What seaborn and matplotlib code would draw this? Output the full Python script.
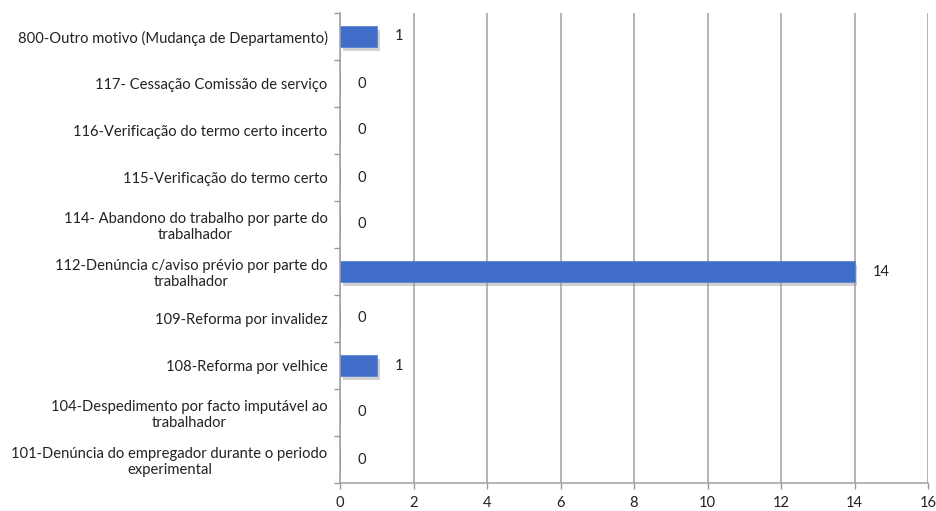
import matplotlib
matplotlib.use("Agg")
import matplotlib.pyplot as plt
import matplotlib.patheffects as pe
import seaborn as sns
import pandas as pd

categories = [
    "800-Outro motivo (Mudança de Departamento)",
    "117- Cessação Comissão de serviço",
    "116-Verificação do termo certo incerto",
    "115-Verificação do termo certo",
    "114- Abandono do trabalho por parte do\ntrabalhador",
    "112-Denúncia c/aviso prévio por parte do\ntrabalhador",
    "109-Reforma por invalidez",
    "108-Reforma por velhice",
    "104-Despedimento por facto imputável ao\ntrabalhador",
    "101-Denúncia do empregador durante o periodo\nexperimental",
]
values = [1, 0, 0, 0, 0, 14, 0, 1, 0, 0]
x_ticks = [0, 2, 4, 6, 8, 10, 12, 14, 16]

df = pd.DataFrame({"cat": categories, "val": values})

sns.set_theme(style="white")
plt.rcParams["font.family"] = ["Lato", "DejaVu Sans"]
FS = 10.6

fig = plt.figure(figsize=(9.36, 5.11), dpi=100)
ax = fig.add_axes([340 / 936, (511 - 483) / 511, (928 - 340) / 936, (483 - 13) / 511])

sns.barplot(data=df, x="val", y="cat", orient="h", color="#3f6dc8",
            width=0.45, ax=ax, saturation=1)
for p in ax.patches:
    p.set_path_effects([pe.SimplePatchShadow(offset=(2, -3), shadow_rgbFace="#999999", alpha=0.45),
                        pe.Normal()])
    p.set_edgecolor("#5a84d4")
    p.set_linewidth(0.6)

ax.set_xlim(0, 16)
ax.set_ylim(len(categories) - 0.5, -0.5)
ax.set_xticks(x_ticks)
ax.set_xticklabels([str(t) for t in x_ticks], fontsize=FS, color="#222222")
ax.set_yticks(range(len(categories)))
ax.set_yticklabels(categories, fontsize=FS, color="#222222", ha="right",
                   multialignment="center", linespacing=1.2)
ax.tick_params(axis="y", length=0, pad=9)
ax.tick_params(axis="x", length=4, width=1, color="#999999", pad=5, direction="out", bottom=True)
ax.set_yticks([i - 0.5 for i in range(len(categories) + 1)], minor=True)
ax.tick_params(axis="y", which="minor", length=4, width=1, color="#999999", direction="out", left=True)

ax.set_xlabel("")
ax.set_ylabel("")
ax.grid(axis="x", color="#a0a0a0", linewidth=1.1)
ax.set_axisbelow(True)
for s in ["top", "right"]:
    ax.spines[s].set_visible(False)
for s in ["left", "bottom"]:
    ax.spines[s].set_color("#a0a0a0")
    ax.spines[s].set_linewidth(1.1)

for i, v in enumerate(values):
    ax.annotate(str(v), xy=(v, i), xytext=(18, 0), textcoords="offset pixels",
                va="center", ha="left", fontsize=FS, color="#222222")

fig.savefig("out.png", dpi=100)
